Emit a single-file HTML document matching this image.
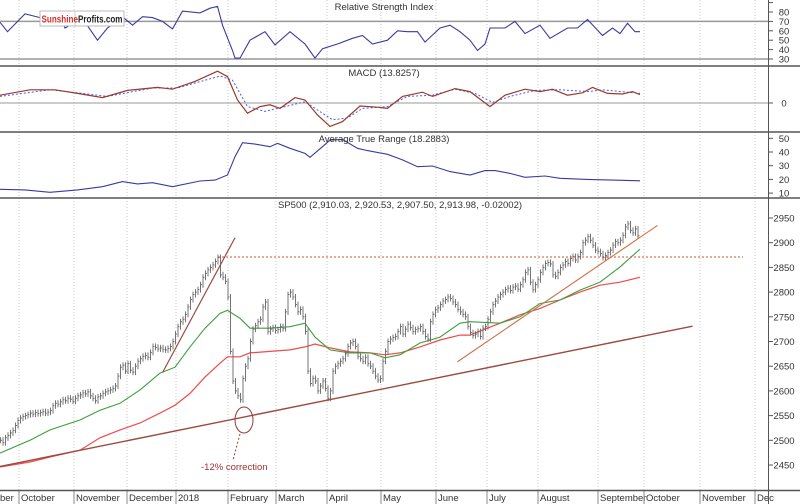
<!DOCTYPE html>
<html><head><meta charset="utf-8"><style>
html,body{margin:0;padding:0;background:#fff;}
svg{display:block;font-family:"Liberation Sans",sans-serif;}
</style></head><body>
<svg id="c" width="800" height="504" viewBox="0 0 800 504">
<rect x="0" y="0" width="800" height="504" fill="#fff"/>
<g id="grid"></g>
<g id="rsiG"></g>
<g id="macdG"></g>
<g id="atrG"></g>
<g id="priceG"></g>
<g id="axesG"></g>
<g>
<rect x="40" y="11" width="84" height="15" fill="#fff" stroke="#bbb"/>
<line x1="75" y1="11" x2="75" y2="26" stroke="#ccc"/>
<text x="41.5" y="22.5" font-size="10.5" font-weight="bold" fill="#d03030" textLength="81" lengthAdjust="spacingAndGlyphs">Sunshine<tspan fill="#222">Profits.com</tspan></text>
</g>
</svg>
<script>
// ---------- data ----------
const closes = [
2500,2495,2505,2510, 2515,2520,2530,2540, 2545,2548,2550,2552, 2555,2553,2556,2554,
2556,2558,2555,2557, 2560,2570,2575,2573, 2578,2582,2580,2585, 2583,2579,2585,2590,
2592,2596,2594,2598, 2590,2585,2580,2588, 2590,2595,2598,2600, 2602,2605,2610,2630,
2648,2652,2640,2655, 2642,2638,2650,2660, 2665,2670,2672,2668, 2678,2690,2688,2685,
2687,2684,2683,2686, 2690,2700,2715,2730, 2740,2745,2755,2770, 2785,2795,2800,2805,
2815,2830,2838,2845, 2850,2855,2862,2870, 2835,2830,2822,2790, 2680,2620,2600,2590,
2582,2625,2650,2665, 2700,2725,2732,2740, 2745,2770,2780,2720, 2725,2728,2722,2724,
2730,2726,2760,2795, 2800,2790,2775,2760, 2765,2750,2720,2640, 2615,2625,2620,2600,
2610,2620,2605,2585, 2600,2640,2650,2655, 2660,2665,2675,2690, 2697,2700,2690,2670,
2665,2660,2668,2655, 2650,2640,2630,2622, 2625,2660,2680,2700, 2705,2708,2710,2720,
2730,2715,2725,2735, 2728,2720,2724,2726, 2730,2720,2710,2705, 2740,2755,2764,2768,
2775,2782,2785,2790, 2787,2780,2775,2765, 2760,2755,2750,2730, 2718,2712,2715,2720,
2710,2727,2730,2745, 2760,2775,2782,2790, 2795,2800,2805,2808, 2803,2810,2812,2806,
2815,2825,2840,2845, 2820,2805,2815,2825, 2840,2850,2858,2860, 2857,2835,2832,2840,
2850,2855,2862,2858, 2868,2872,2865,2872, 2880,2900,2905,2912, 2905,2895,2885,2882,
2878,2870,2874,2880, 2885,2895,2902,2900, 2905,2915,2932,2938, 2925,2920,2928,2914];

const maDays = [0,12,20,32,40,48,56,64,70,76,82,88,91,96,100,108,116,122,126,132,140,148,154,160,168,176,184,188,200,208,216,224,232,240,248,256];
const ma50 = [2474,2500,2521,2541,2561,2575,2602,2636,2648,2689,2727,2757,2763,2747,2727,2727,2730,2737,2709,2683,2677,2677,2667,2673,2697,2709,2737,2740,2737,2750,2777,2784,2804,2820,2851,2887];
const ma200 = [2446,2456,2466,2480,2505,2521,2535,2555,2571,2595,2628,2656,2669,2669,2677,2680,2683,2689,2695,2687,2679,2677,2673,2677,2689,2703,2713,2713,2737,2754,2767,2784,2800,2814,2820,2830];

const rsiDays = [0,3,10,16,24,26,33,39,43,49,53,57,61,65,69,73,80,84,87,89,93,94,96,100,106,110,116,122,126,129,135,141,145,149,155,159,163,167,170,176,180,184,188,191,194,196,202,206,210,216,220,227,231,235,241,245,248,251,254,256];
const rsiVals = [69,59,78,74,75,63,73,50,63,75,66,75,74,70,62,81,79,84,86,66,39,31,31,50,59,45,59,46,31,41,46,52,55,46,50,60,59,59,48,63,66,59,50,39,46,63,63,70,57,66,52,63,63,72,55,63,57,68,59,59];

const macdDays = [0,12,22,31,41,51,63,69,78,87,91,95,99,104,108,112,118,122,127,132,137,144,151,155,161,169,173,182,188,196,202,210,216,221,227,233,237,243,249,253,256];
const macdVals = [13,22,22,16,9,21,26,23,36,53,44,5,-17,-6,-3,-9,9,5,-20,-39,-31,-5,-7,-9,11,18,11,24,19,-6,13,23,19,23,13,17,26,16,15,19,14];
const sigDays = [0,20,31,43,61,71,88,93,99,106,114,122,133,139,145,155,163,173,182,190,197,204,214,224,235,241,256];
const sigVals = [11,22,17,11,25,25,45,38,-6,-14,-6,2,-28,-25,-9,-6,11,13,23,16,1,11,21,22,19,22,16];

const atrDays = [0,10,20,31,41,49,55,61,69,80,86,91,94,97,102,108,111,116,122,124,129,132,137,143,147,155,161,167,173,180,188,194,198,204,210,218,224,235,245,256];
const atrVals = [12.8,12.3,10.6,12.3,14.7,18.4,16.7,17.6,14.7,18.8,19.5,23.2,36.6,46.8,45.8,43.9,46.3,42.7,39,36.1,43.9,48.7,49.2,42.7,41,38.3,34.2,29.3,29.8,25.7,23.2,26.4,26.4,24.4,21.5,22.5,20.8,20,19.5,19];

const monthLabels = ["ber","October","November","December","2018","February","March","April","May","June","July","August","September","October","November","Dec"];
const monthDays = [-14,7.6,29.6,50.8,70.4,91.2,110.4,130.8,152.4,174.4,194.8,215.2,239.2,257.6,280,302];
const priceTicks = [2950,2900,2850,2800,2750,2700,2650,2600,2550,2500,2450];
const rsiTicks = [80,70,60,50,40,30];
const atrTicks = [50,40,30,20,10];
const macdTicks = [0];
const longTrend = [[0,2447],[277,2731]];
const steepTrend = [[65,2637],[94,2910]];
const riseTrend = [[183,2659],[263,2935]];
const resistLevel = 2871;

// ---------- axes ----------
const NS = "http://www.w3.org/2000/svg";
const xd = d => d * 2.5;
const yP = v => 218 + (2950 - v) * 0.494;
const yR = v => 12 + (80 - v) * 0.94;
const yM = v => 103 - v * 0.6;
const yA = v => 138.3 + (50 - v) * 1.37;

function mk(tag, attrs, parent) {
  const e = document.createElementNS(NS, tag);
  for (const k in attrs) e.setAttribute(k, attrs[k]);
  parent.appendChild(e);
  return e;
}
const grid = document.getElementById('grid');
const axesG = document.getElementById('axesG');
const rsiG = document.getElementById('rsiG');
const macdG = document.getElementById('macdG');
const atrG = document.getElementById('atrG');
const priceG = document.getElementById('priceG');

monthDays.forEach((d, i) => {
  const x = xd(d);
  if (x > 0 && x < 768) {
    const l = mk('line', {x1:x, y1:0, x2:x, y2:490, stroke:'#c8c8c8', 'stroke-dasharray':'1,2'}, grid);
    
    
    mk('line', {x1:x, y1:490, x2:x, y2:504, stroke:'#888'}, axesG);
  }
  const t = mk('text', {x: Math.max(x + 2, 0), y: 501, 'font-size': 9.5, fill:'#333'}, axesG);
  t.textContent = monthLabels[i];
  
  
});

[66,132,198].forEach(y => {
  mk('line', {x1:0, y1:y, x2:800, y2:y, stroke:'#555', 'stroke-width':1.5}, axesG);
});
mk('line', {x1:0, y1:490.5, x2:800, y2:490.5, stroke:'#555', 'stroke-width':1.5}, axesG);
mk('line', {x1:768.5, y1:0, x2:768.5, y2:504, stroke:'#555'}, axesG);

function yTicks(ticks, fy, group, nm, labels) {
  ticks.forEach(v => {
    const y = fy(v);
    mk('line', {x1:768, y1:y, x2:773, y2:y, stroke:'#555'}, group);
    if (labels) {
      const t = mk('text', {x: 784, y: y + 3.5, 'font-size': 9.5, fill:'#333', 'text-anchor':'middle'}, group);
      t.textContent = v;
      
      
    }
  });
}
yTicks(priceTicks, yP, axesG, 'price-tick-label', true);
yTicks(rsiTicks, yR, axesG, 'rsi-tick-label', true);
yTicks(atrTicks, yA, axesG, 'atr-tick-label', true);
yTicks(macdTicks, yM, axesG, 'macd-tick-label', true);
mk('line', {x1:768, y1:yR(90), x2:773, y2:yR(90), stroke:'#555'}, axesG);

function title(txt, x, y, nm) {
  const t = mk('text', {x:x, y:y, 'font-size':9.5, fill:'#333', 'text-anchor':'middle'}, axesG);
  t.textContent = txt;
  
  
}
title('Relative Strength Index', 384, 10, 'rsi-title');
title('MACD (13.8257)', 384, 76, 'macd-title');
title('Average True Range (18.2883)', 384, 142, 'atr-title');
title('SP500 (2,910.03, 2,920.53, 2,907.50, 2,913.98, -0.02002)', 400, 208, 'price-title');

function poly(days, vals, fy, attrs, group, nm) {
  const pts = days.map((d, i) => xd(d).toFixed(1) + ',' + fy(vals[i]).toFixed(1)).join(' ');
  const p = mk('polyline', Object.assign({points: pts, fill:'none'}, attrs), group);
  
  
  return p;
}

[70,30].forEach(v => {
  mk('line', {x1:0, y1:yR(v), x2:768, y2:yR(v), stroke:'#999', 'stroke-width':1.5}, rsiG);
});
poly(rsiDays, rsiVals, yR, {stroke:'#3a3aa0', 'stroke-width':1.1}, rsiG, 'rsi-line');

mk('line', {x1:0, y1:yM(0), x2:768, y2:yM(0), stroke:'#999'}, macdG);
poly(sigDays, sigVals, yM, {stroke:'#4a5cf0', 'stroke-width':1, 'stroke-dasharray':'2,2'}, macdG, 'macd-signal-line');
poly(macdDays, macdVals, yM, {stroke:'#9a3a2a', 'stroke-width':1.2}, macdG, 'macd-line');

poly(atrDays, atrVals, yA, {stroke:'#3a3aa0', 'stroke-width':1.1}, atrG, 'atr-line');

poly(maDays, ma200, yP, {stroke:'#f04a4a', 'stroke-width':1.2}, priceG, 'ma200-line');
poly(maDays, ma50, yP, {stroke:'#3aa03a', 'stroke-width':1.1}, priceG, 'ma50-line');

closes.forEach((c, i) => {
  const prev = i > 0 ? closes[i - 1] : c;
  const hi = Math.max(prev, c), lo = Math.min(prev, c);
  const x = xd(i) + 0.5;
  const g = mk('g', {stroke:'#666', 'stroke-width':0.9}, priceG);
  
  
  mk('line', {x1:x, y1:yP(hi) - 3, x2:x, y2:yP(lo) + 3}, g);
  mk('line', {x1:x, y1:yP(c), x2:x + 1.5, y2:yP(c)}, g);
});

function tline(seg, stroke, nm, w) {
  const l = mk('line', {x1:xd(seg[0][0]), y1:yP(seg[0][1]), x2:xd(seg[1][0]), y2:yP(seg[1][1]), stroke:stroke, 'stroke-width':w}, priceG);
  
  
}
tline(longTrend, '#9a4a40', 'long-support-trendline', 1.4);
tline(steepTrend, '#9a4a40', 'steep-trendline', 1.2);
tline(riseTrend, '#d07040', 'rising-trendline', 1.1);
const rl = mk('line', {x1:218, y1:yP(resistLevel), x2:743, y2:yP(resistLevel), stroke:'#d05030', 'stroke-dasharray':'2,2'}, priceG);


const el = mk('ellipse', {cx:244, cy:420, rx:9, ry:13, fill:'none', stroke:'#9a3a30'}, priceG);


mk('line', {x1:240, y1:434, x2:233, y2:460, stroke:'#9a3a30', 'stroke-dasharray':'2,2'}, priceG);
const ct = mk('text', {x:201, y:470, 'font-size':9.5, fill:'#a03030'}, priceG);
ct.textContent = '-12% correction';


</script>
</body></html>
